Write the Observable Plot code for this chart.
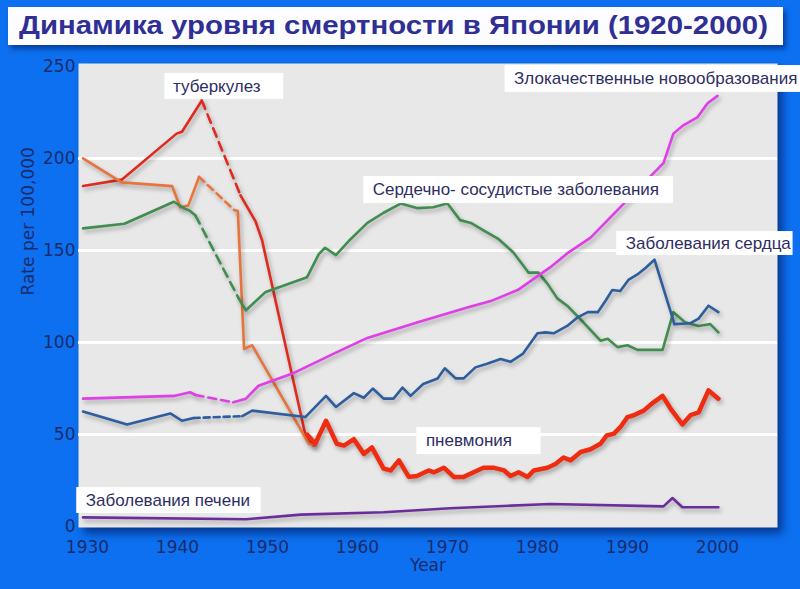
<!DOCTYPE html>
<html>
<head>
<meta charset="utf-8">
<script src="https://cdn.jsdelivr.net/npm/d3@7"></script>
<script src="https://cdn.jsdelivr.net/npm/@observablehq/plot@0.6"></script>
<style>
  html, body { margin: 0; padding: 0; }
  body { width: 800px; height: 589px; background: #0c70f0; overflow: hidden; position: relative; font-family: "DejaVu Sans", sans-serif; }
  #title { position: absolute; left: 8px; top: 7px; width: 775px; height: 38px; background: #fdfdff; box-shadow: 3px 4px 5px rgba(0,0,60,0.45); z-index: 2; }
  #title svg { overflow: visible; }
  #chart { position: absolute; left: 0; top: 0; }
</style>
</head>
<body>
<div id="title"></div>
<div id="chart"></div>
<script>
// ---- data (year, rate per 100,000) ----
const titleText = "Динамика уровня смертности в Японии (1920-2000)";

const tuberculosisBefore = [[1929.5,185],[1933.8,188.5],[1939.9,213.5],[1940.5,214.5],[1942.7,231.5]];
const tuberculosisAfter  = [[1947,180],[1948.7,165.5],[1949.4,155.5],[1954.2,50],[1955.1,44]];

const orangeBefore = [[1929.5,200],[1933.8,187],[1939.4,185],[1940.3,173.5],[1941.2,174.5],[1942.4,190]];
const orangeAfter  = [[1946.3,172],[1946.7,171.5],[1947.4,96.5],[1948.3,98.5],[1954.6,45],[1955.3,44]];

const cerebroBefore = [[1929.5,162],[1934.1,164.5],[1939.6,176.5],[1940.7,173],[1941.4,171.5],[1942,169]];
const cerebroAfter  = [[1946.8,124],[1947.6,117.5],[1949.8,127.5],[1954.4,135.5],[1955.7,148],[1956.4,151.5],[1957.6,147.5],[1959.2,156],[1961.1,165],[1962.9,170.5],[1964.8,175.5],[1966.7,173],[1968.4,173.5],[1970,175.5],[1971.4,166.5],[1972.6,165],[1974,161],[1975.6,156.5],[1977.3,149],[1979,138],[1980.1,138],[1981.1,132],[1982.2,124],[1983.3,120],[1985.1,111],[1987,101],[1987.8,102],[1988.9,97.5],[1990,98.5],[1991.1,96],[1993.9,96],[1995.1,116.5],[1996.4,111],[1997.9,109],[1999.2,110],[2000.1,105.5]];

const neoplasmBefore = [[1929.5,69.5],[1939.6,71],[1941.4,73],[1942,71.5]];
const neoplasmAfter  = [[1946.2,67.5],[1947.6,69.5],[1949,76.5],[1952.7,83],[1955.7,90],[1957.6,94.5],[1961.1,102.5],[1966.7,111],[1972.2,119],[1974.8,122.5],[1977.8,128.5],[1981.4,140.8],[1983.3,148.4],[1985.9,157],[1988.1,168],[1990.3,179],[1992.9,192],[1994,197.5],[1995.1,213.5],[1996.2,218],[1997.8,222.5],[1998.9,230],[2000,234]];

const heartBefore = [[1929.5,62.5],[1934.4,55.5],[1939.2,61.5],[1940.5,57.5],[1941.8,59]];
const heartAfter  = [[1947.2,60],[1948.3,63],[1954.2,59.5],[1956.5,71],[1957.6,65],[1959.6,72.5],[1960.7,70],[1961.7,75],[1962.9,69.5],[1964,69.5],[1965,75.5],[1965.9,71],[1967.3,77.5],[1968.9,80.5],[1969.7,86],[1970.9,80.5],[1971.8,80.5],[1973.1,86.5],[1974.4,88.5],[1975.9,91],[1977,89.5],[1978.4,94],[1980,105],[1980.9,105.5],[1981.8,105],[1983.3,109],[1984.4,113.5],[1985.6,116.5],[1986.7,116.5],[1987.6,123],[1988.3,128.5],[1989.2,128],[1990.1,134],[1991.1,137],[1992,140.5],[1993,145],[1995,113.5],[1995.2,110],[1997,110.5],[1997.9,113],[1999,120],[2000.1,116.5]];

const pneumonia = [[1954.4,50],[1955.3,45],[1956.5,57.5],[1957.7,45],[1958.5,44],[1959.6,47.5],[1960.7,39.5],[1961.6,43],[1962.9,31.5],[1963.7,30.5],[1964.6,36],[1965.7,27],[1966.6,27.5],[1967.9,30.5],[1968.5,29.5],[1969.6,32],[1970.7,27],[1971.8,27],[1972.9,29.5],[1974,32],[1975.1,32],[1976.3,30.5],[1977,27.5],[1977.9,29.5],[1978.9,27],[1979.6,30.5],[1981.1,32],[1982,34],[1982.9,37.5],[1983.7,36],[1984.8,40.5],[1985.9,42],[1987,45],[1987.7,49.5],[1988.5,50.5],[1989.2,54],[1990,59.5],[1990.7,60.5],[1991.8,63],[1992.9,67.5],[1993.9,71],[1994.8,64],[1996.1,55.5],[1997,60.5],[1997.9,62],[1999,74],[2000.1,69.5]];

const liver = [[1929.5,5],[1947.6,4],[1953.7,6.5],[1962.9,7.8],[1970.3,10],[1981.4,12.3],[1994,11],[1995,15.5],[1996.1,10.5],[2000.1,10.5]];

const xTicks = [1930, 1940, 1950, 1960, 1970, 1980, 1990, 2000];
const yTicks = [0, 50, 100, 150, 200, 250];
const gridValues = [50, 100, 150, 200];

const labelTexts = ["туберкулез", "Злокачественные новообразования", "Сердечно- сосудистые заболевания", "Заболевания сердца", "пневмония", "Заболевания печени"];
// label anchors (data units) and their white boxes
const labelX = [1939.5, 1977.4, 1961.7, 1989.8, 1967.6, 1929.8];
const labelY = [239, 243.2, 182.9, 153.8, 46.7, 14.1];
const boxX1 = [1938.6, 1976.4, 1960.7, 1988.8, 1966.6, 1928.8];
const boxX2 = [1951.8, 2009.5, 1995.1, 2008.4, 1980.4, 1949.3];
const boxY1 = [232.1, 235.9, 175.5, 147.3, 39.1, 7.1];
const boxY2 = [246.2, 250.5, 190.2, 160.3, 53.8, 21.2];

// ---- build ----
const toRows = pts => pts.map(([year, value]) => ({year, value}));
const bridge = (a, b) => toRows([a[a.length - 1], b[0]]);

const thin = 2.6;
const series = [
  {before: tuberculosisBefore, after: tuberculosisAfter, color: "#e02a1e", w: thin, dash: "9,6"},
  {before: orangeBefore, after: orangeAfter, color: "#e8743c", w: thin, dash: "7,5"},
  {before: cerebroBefore, after: cerebroAfter, color: "#3f8d4f", w: thin, dash: "9,6"},
  {before: neoplasmBefore, after: neoplasmAfter, color: "#e03ee6", w: thin, dash: "8,5"},
  {before: heartBefore, after: heartAfter, color: "#2d5d9d", w: thin, dash: "6,4"}
];

const lineMarks = [];
for (const s of series) {
  lineMarks.push(Plot.line(toRows(s.before), {x: "year", y: "value", stroke: s.color, strokeWidth: s.w}));
  lineMarks.push(Plot.line(bridge(s.before, s.after), {x: "year", y: "value", stroke: s.color, strokeWidth: s.w, strokeDasharray: s.dash}));
  lineMarks.push(Plot.line(toRows(s.after), {x: "year", y: "value", stroke: s.color, strokeWidth: s.w}));
}
lineMarks.push(Plot.line(toRows(liver), {x: "year", y: "value", stroke: "#6b2d9c", strokeWidth: thin}));
lineMarks.push(Plot.line(toRows(pneumonia), {x: "year", y: "value", stroke: "#ef2b10", strokeWidth: 4.5}));

const labels = labelTexts.map((text, i) => ({text, x: labelX[i], y: labelY[i], x1: boxX1[i], x2: boxX2[i], y1: boxY1[i], y2: boxY2[i]}));

const axisColor = "#1b2c6c";
const chart = Plot.plot({
  width: 800,
  height: 589,
  marginLeft: 78,
  marginRight: 23,
  marginTop: 63,
  marginBottom: 62,
  style: {background: "transparent", color: axisColor, fontFamily: "DejaVu Sans, sans-serif", fontSize: "17px"},
  x: {domain: [1929, 2006.67], ticks: xTicks, tickFormat: d => String(d), tickSize: 0, tickPadding: 13, label: null},
  y: {domain: [-0.5, 251.6], ticks: yTicks, tickSize: 0, tickPadding: 3, label: null},
  marks: [
    Plot.frame({fill: "#e8e8e8", stroke: null}),
    Plot.ruleY(gridValues, {stroke: "white", strokeWidth: 3}),
    ...lineMarks,
    Plot.rect(labels, {x1: "x1", x2: "x2", y1: "y1", y2: "y2", fill: "white"}),
    Plot.text(labels, {x: "x", y: "y", text: "text", textAnchor: "start", fill: "#2e2e62", fontSize: 17, fontFamily: "Liberation Sans, Arial, sans-serif"}),
    Plot.text(["Rate per 100,000"], {frameAnchor: "left", dx: -50, rotate: -90, fill: axisColor, fontSize: 17}),
    Plot.text(["Year"], {frameAnchor: "bottom", dy: 43, fill: axisColor, fontSize: 17})
  ]
});
document.getElementById("chart").appendChild(chart);

// styling: shadows
const svg = d3.select(chart);
svg.selectAll('[aria-label="frame"]').style("filter", "drop-shadow(5px 6px 4px rgba(0,0,50,0.5))");
svg.selectAll('[aria-label="line"]').style("filter", "drop-shadow(2px 3px 2px rgba(0,0,0,0.3))");

// title
const t = d3.select("#title").append("svg").attr("width", 775).attr("height", 38);
t.append("text")
  .attr("x", 11).attr("y", 27)
  .attr("textLength", 749).attr("lengthAdjust", "spacingAndGlyphs")
  .attr("fill", "#2f2f95")
  .attr("font-family", "Liberation Sans, Arial, sans-serif")
  .attr("font-weight", "bold")
  .attr("font-size", 26)
  .text(titleText);
</script>
</body>
</html>
